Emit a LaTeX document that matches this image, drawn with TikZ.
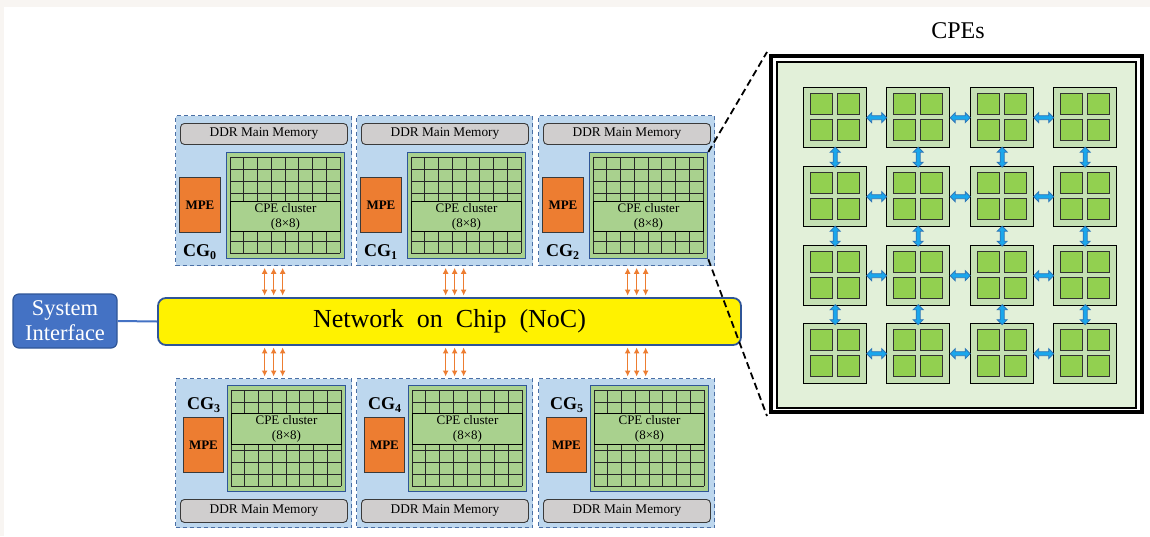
\documentclass[tikz,border=0pt]{standalone}
\usepackage{fontspec}
\setmainfont{Liberation Serif}
\usetikzlibrary{arrows.meta,calc}
\definecolor{bgbeige}{HTML}{F8F5F2}
\definecolor{cgfill}{HTML}{BDD7EE}
\definecolor{cgedge}{HTML}{4A6FA5}
\definecolor{ddrfill}{HTML}{D0CECE}
\definecolor{ddredge}{HTML}{3A3A3A}
\definecolor{mpefill}{HTML}{ED7D31}
\definecolor{clfill}{HTML}{A9D18E}
\definecolor{cledge}{HTML}{2F5597}
\definecolor{nocedge}{HTML}{2F5597}
\definecolor{sysfill}{HTML}{4472C4}
\definecolor{panelfill}{HTML}{E2F0D9}
\definecolor{tilefill}{HTML}{C5E0B4}
\definecolor{cpefill}{HTML}{92D050}
\definecolor{linkfill}{HTML}{1AA7EC}
\definecolor{linkedge}{HTML}{2E75B6}
\definecolor{orangearr}{HTML}{ED7D31}
\newcommand\cgsub[1]{CG\raisebox{-3.5pt}{\fontsize{12}{12}\selectfont #1}}
\begin{document}
\begin{tikzpicture}[x=1pt,y=-1pt,
  cgbox/.style={draw=cgedge,fill=cgfill,line width=1.3pt,dash pattern=on 4pt off 3pt,minimum width=176pt,minimum height=150pt,inner sep=0pt,anchor=north west},
  ddrbox/.style={draw=ddredge,fill=ddrfill,line width=0.9pt,rounded corners=4pt,minimum width=167pt,inner sep=0pt,anchor=north west,font=\fontsize{13.3}{13.3}\selectfont},
  mpebox/.style={draw=ddredge,fill=mpefill,line width=0.9pt,inner sep=0pt,anchor=north west,font=\fontsize{13}{13}\selectfont\bfseries},
  clbox/.style={draw=cledge,fill=clfill,line width=1.3pt,minimum width=118pt,minimum height=106pt,inner sep=0pt,anchor=north west},
  gridln/.style={draw=black!85,line width=0.7pt},
  lblbox/.style={draw=black,fill=clfill,line width=0.9pt,minimum width=110pt,inner sep=0pt,anchor=north west,align=center,font=\fontsize{13}{15}\selectfont},
  cglbl/.style={anchor=base west,inner sep=0pt,font=\fontsize{18}{18}\selectfont\bfseries},
  orarr/.style={draw=orangearr,line width=1.4pt,{Latex[length=6pt,width=6pt]}-{Latex[length=6pt,width=6pt]}},
  tilebox/.style={draw=black,fill=tilefill,line width=1.4pt,minimum width=63pt,minimum height=60pt,inner sep=0pt,anchor=north west},
  cpebox/.style={draw=black!80,fill=cpefill,line width=1pt,minimum width=22pt,minimum height=21pt,inner sep=0pt,anchor=north west},
  pics/linkarr/.style={code={\draw[draw=linkedge,fill=linkfill,line width=0.8pt,line join=miter]
      (-10,0) -- (-5,-5) -- (-5,-2) -- (5,-2) -- (5,-5) -- (10,0) -- (5,5) -- (5,2) -- (-5,2) -- (-5,5) -- cycle;}},
  dashln/.style={draw=black,line width=1.8pt,dash pattern=on 7pt off 4pt}]
\useasboundingbox (0,0) rectangle (1150,536);
\fill[bgbeige] (0,0) rectangle (1150,536);
\fill[white] (4,7) rectangle (1150,536);

% top row compute groups
\foreach \i/\L in {0/175,1/356,2/538} {
  \node[cgbox] (cg\i) at (\L,115) {};
  \node[ddrbox,minimum height=21pt] (ddr\i) at (\L+5,123) {DDR Main Memory};
  \node[clbox] (cl\i) at (\L+51,152) {};
  \foreach \j in {0,...,8} { \draw[gridln] (\L+55+\j*13.75,157) -- ++(0,96); }
  \foreach \k in {0,...,8} { \draw[gridln] (\L+55,157+\k*12) -- ++(110,0); }
  \node[lblbox,minimum height=30pt] (lb\i) at (\L+55,201) {CPE cluster\\(8×8)};
  \node[mpebox,minimum width=41pt,minimum height=55pt] (mpe\i) at (\L+4,177) {MPE};
  \node[cglbl] (cgl\i) at (\L+8,256) {\cgsub{\i}};
}
% bottom row compute groups
\foreach \i/\L in {3/175,4/356,5/538} {
  \node[cgbox,minimum height=149pt] (cg\i) at (\L,378) {};
  \node[ddrbox,minimum height=23pt] (ddr\i) at (\L+5,499) {DDR Main Memory};
  \node[clbox] (cl\i) at (\L+52,385) {};
  \foreach \j in {0,...,8} { \draw[gridln] (\L+56+\j*13.75,390) -- ++(0,96); }
  \foreach \k in {0,...,8} { \draw[gridln] (\L+56,390+\k*12) -- ++(110,0); }
  \node[lblbox,minimum height=31pt] (lb\i) at (\L+56,413) {CPE cluster\\(8×8)};
  \node[mpebox,minimum width=40pt,minimum height=55pt] (mpe\i) at (\L+8,417) {MPE};
  \node[cglbl] (cgl\i) at (\L+12,409) {\cgsub{\i}};
}

% network on chip
\node[draw=nocedge,fill=yellow,line width=1.8pt,rounded corners=8pt,minimum width=583pt,minimum height=47pt,inner sep=0pt,font=\fontsize{26}{26}\selectfont] (noc) at (449.5,321.5) {Network\ \ on\ \ Chip\ \ (NoC)};

% system interface
\node[draw=nocedge,fill=sysfill,line width=1.2pt,rounded corners=6pt,minimum width=104pt,minimum height=54pt,inner sep=0pt,align=center,text=white,font=\fontsize{22.5}{25}\selectfont] (sys) at (65,321) {System\\Interface};
\draw[draw=sysfill,line width=2pt] (sys.east) -- (noc.west);

% links CG <-> NoC
\foreach \i/\j in {0/3,1/4,2/5} {
  \foreach \dx in {1,10,19} {
    \draw[orarr,shorten <=1.5pt,shorten >=1.5pt] ([xshift=\dx pt]cg\i.south) -- ([xshift=\dx pt]cg\i.south |- noc.north);
    \draw[orarr,shorten <=1.5pt,shorten >=1.5pt] ([xshift=\dx pt]cg\j.north |- noc.south) -- ([xshift=\dx pt]cg\j.north);
  }
}

% CPE panel
\node[draw=black,line width=4pt,minimum width=371pt,minimum height=356pt,inner sep=0pt] (outer) at (956.5,234) {};
\node[draw=black,fill=panelfill,line width=1.5pt,minimum width=359pt,minimum height=346pt,inner sep=0pt] (inner) at (956.5,235) {};
\node[font=\fontsize{24}{24}\selectfont,inner sep=0pt] (cpes) at (958,31) {CPEs};

\foreach \r/\ty in {1/87,2/166,3/245,4/323} {
  \foreach \c/\tx in {1/803,2/886,3/970,4/1053} {
    \node[tilebox] (t\r\c) at (\tx,\ty) {};
    \node[cpebox] (s\r\c a) at (\tx+7,\ty+6) {};
    \node[cpebox] (s\r\c b) at (\tx+34,\ty+6) {};
    \node[cpebox] (s\r\c c) at (\tx+7,\ty+32) {};
    \node[cpebox] (s\r\c d) at (\tx+34,\ty+32) {};
  }
}
\foreach \r in {1,2,3,4} {
  \foreach \c [evaluate=\c as \n using int(\c+1)] in {1,2,3} {
    \pic at ($(t\r\c.east)!0.5!(t\r\n.west)$) {linkarr};
  }
}
\foreach \c in {1,2,3,4} {
  \foreach \r [evaluate=\r as \n using int(\r+1)] in {1,2,3} {
    \pic[rotate=90] at ($(t\r\c.south)!0.5!(t\n\c.north)$) {linkarr};
  }
}

% zoom lines
\draw[dashln] (cl2.north east) -- ([xshift=-2pt,yshift=2pt]outer.north west);
\draw[dashln] (cl2.south east) -- ([xshift=-2pt,yshift=-2pt]outer.south west);
\end{tikzpicture}
\end{document}
